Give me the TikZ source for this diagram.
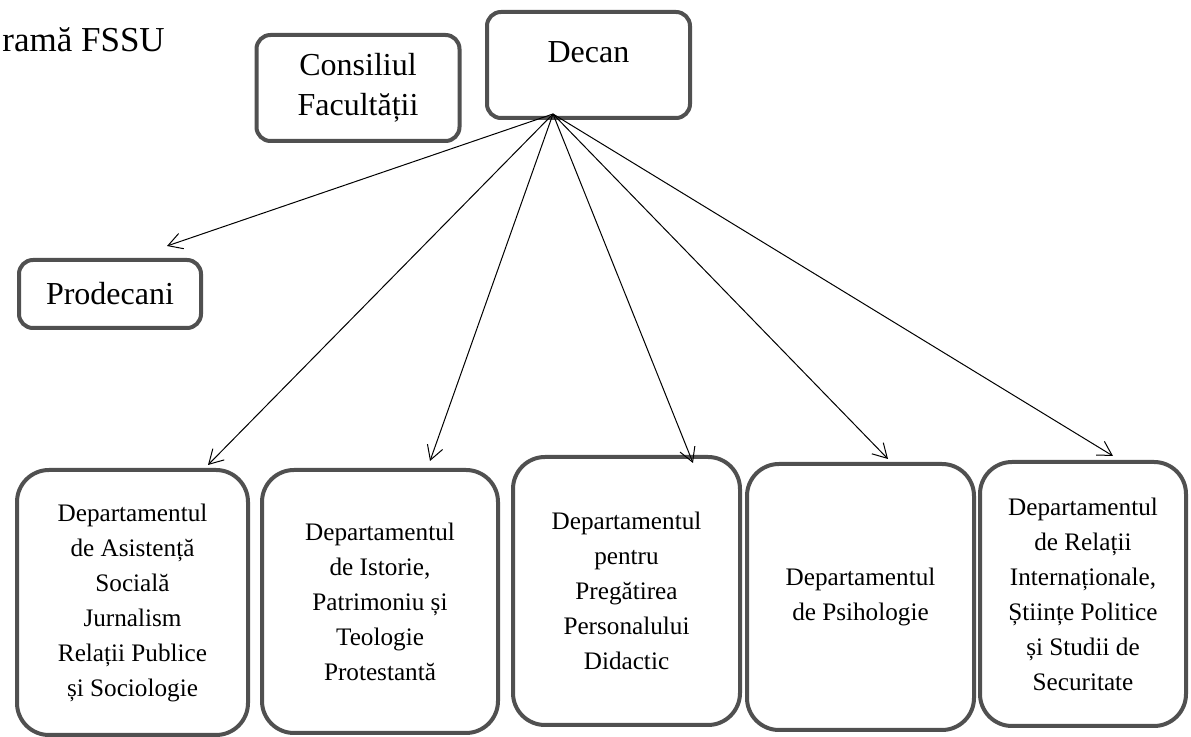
\documentclass[tikz,border=0pt]{standalone}
\usepackage{fontspec}
\setmainfont{Liberation Serif}
\usetikzlibrary{arrows.meta,calc}
\definecolor{boxgray}{RGB}{80,80,80}
\tikzset{
  topbox/.style={draw=boxgray, line width=2pt, rounded corners=7pt, fill=white,
    align=center, inner sep=0pt, font=\fontsize{16}{20}\selectfont},
  deptbox/.style={draw=boxgray, line width=2pt, rounded corners=16pt, fill=white,
    align=center, inner sep=0pt, font=\fontsize{12.6}{17.5}\selectfont},
  link/.style={black, line width=0.5pt, -{Straight Barb[length=7pt,width=8pt]}}
}

\begin{document}
\begin{tikzpicture}[x=0.5pt,y=-0.5pt]
\fill[white] (0,0) rectangle (1191,737);
\useasboundingbox (0,0) rectangle (1191,737);
%
\node[anchor=base west, inner sep=0pt, font=\fontsize{17.5}{20}\selectfont] (title) at (2,52) {ramă FSSU};
%
\node[topbox, minimum width=101.5pt, minimum height=53pt] (consiliu) at (358,88) {Consiliul\\Facultății};
\node[topbox, minimum width=101.5pt, minimum height=53pt, text depth=12.5pt] (decan) at (588.5,65) {Decan};
\node[topbox, minimum width=91pt, minimum height=34pt] (prodecani) at (110,294) {Prodecani};
%
\node[deptbox, minimum width=115.5pt, minimum height=132.5pt] (d1) at (132.5,602.5)
  {Departamentul\\de Asistență\\Socială\\Jurnalism\\Relații Publice\\și Sociologie};
\node[deptbox, minimum width=118pt, minimum height=131.5pt] (d2) at (380,601.5)
  {Departamentul\\de Istorie,\\Patrimoniu și\\Teologie\\Protestantă};
\node[deptbox, minimum width=113.5pt, minimum height=134pt] (d3) at (626.5,591)
  {Departamentul\\pentru\\Pregătirea\\Personalului\\Didactic};
\node[deptbox, minimum width=113.5pt, minimum height=133pt] (d4) at (860.5,597)
  {Departamentul\\de Psihologie};
\node[deptbox, minimum width=103pt, minimum height=132pt] (d5) at (1083,594)
  {Departamentul\\de Relații\\Internaționale,\\Științe Politice\\și Studii de\\Securitate};
%
\coordinate (hub) at ($(decan.south)+(-35.5,-6)$);
\foreach \n/\dx/\dy in {prodecani/57/-12, d1/75.5/-3, d2/50/-7, d3/66.5/8, d4/27.5/-3, d5/30/-4} {
    \draw[link] (hub) -- ($(\n.north)+(\dx,\dy)$);
}
\end{tikzpicture}
\end{document}
